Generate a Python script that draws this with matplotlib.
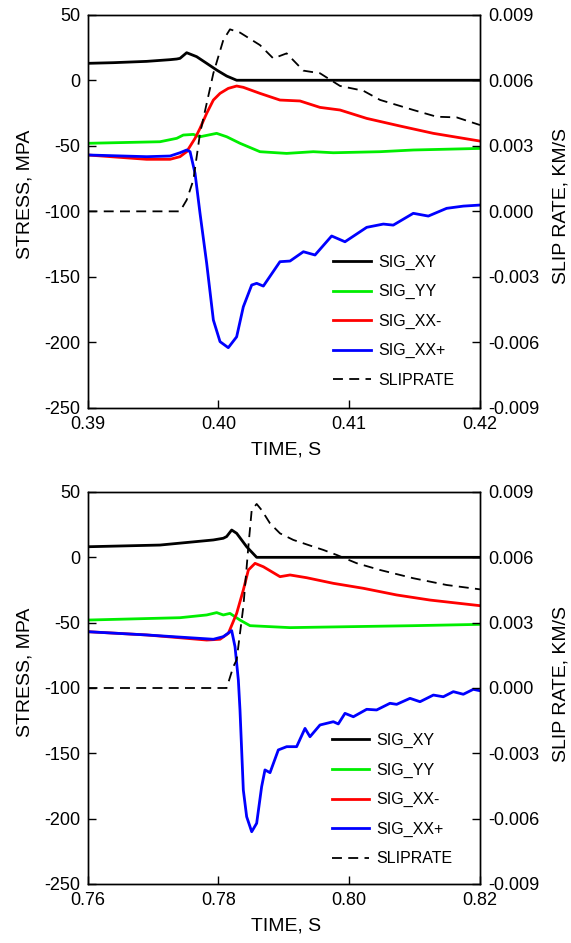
import matplotlib
matplotlib.use("Agg")
import matplotlib.pyplot as plt

plt.rcParams['font.family'] = ['Liberation Sans', 'DejaVu Sans']

# ---------------- data: top panel ----------------
t_xy_top = [0.390, 0.39197, 0.39452, 0.39631, 0.39682, 0.39707, 0.39758, 0.39834, 0.39911, 0.39987, 0.40064, 0.4014, 0.420]
xy_top = [12.9, 13.4, 14.4, 15.7, 16.2, 16.7, 21.0, 18.0, 12.9, 7.8, 3.2, 0.0, 0.0]

t_yy_top = [0.390, 0.39554, 0.39682, 0.39732, 0.39809, 0.3986, 0.39987, 0.40064, 0.40166, 0.40318, 0.40522, 0.40726, 0.40879, 0.41236, 0.4149, 0.420]
yy_top = [-48.1, -46.9, -44.3, -41.8, -41.3, -43.1, -40.5, -43.1, -48.1, -54.5, -55.8, -54.5, -55.3, -54.5, -53.2, -52.0]

t_xxm_top = [0.390, 0.39452, 0.39631, 0.39707, 0.39758, 0.39822, 0.3986, 0.39911, 0.39962, 0.40013, 0.40076, 0.4014, 0.40191, 0.40318, 0.40471, 0.40624, 0.40777, 0.4093, 0.41134, 0.41388, 0.41643, 0.420]
xxm_top = [-57.0, -60.3, -60.3, -58.3, -54.5, -44.3, -36.7, -25.2, -15.1, -10.0, -6.2, -4.4, -5.4, -10.0, -15.1, -15.8, -20.7, -22.7, -29.1, -34.9, -40.5, -46.4]

t_xxp_top = [0.390, 0.39452, 0.39631, 0.39707, 0.39758, 0.39784, 0.39822, 0.3986, 0.39911, 0.39962, 0.40013, 0.40076, 0.4014, 0.40191, 0.40255, 0.40293, 0.40344, 0.40471, 0.40548, 0.4065, 0.40739, 0.40866, 0.40968, 0.41134, 0.41261, 0.41337, 0.4149, 0.41605, 0.41745, 0.41873, 0.420]
xxp_top = [-57.0, -58.3, -57.8, -55.3, -53.2, -54.5, -71.0, -101.5, -139.7, -182.9, -199.4, -204.0, -195.7, -172.8, -156.2, -154.9, -157.0, -138.4, -137.9, -130.8, -133.3, -118.8, -123.2, -112.2, -109.7, -110.5, -101.5, -103.6, -97.7, -96.0, -95.2]

t_slip_top = [0.390, 0.39707, 0.39758, 0.39809, 0.3986, 0.39911, 0.39962, 0.40038, 0.40089, 0.40166, 0.40318, 0.4042, 0.40522, 0.4065, 0.40777, 0.4093, 0.41108, 0.41236, 0.4149, 0.41669, 0.41822, 0.420]
slip_top = [0.0, 0.0, 0.00052, 0.00143, 0.00357, 0.00494, 0.00632, 0.00784, 0.00833, 0.00818, 0.00761, 0.00700, 0.00723, 0.00644, 0.00632, 0.00574, 0.00552, 0.00510, 0.00464, 0.00433, 0.00430, 0.00395]

# ---------------- data: bottom panel ----------------
t_xy_bot = [0.760, 0.77108, 0.77924, 0.78076, 0.78127, 0.78204, 0.7828, 0.78433, 0.78586, 0.820]
xy_bot = [8.1, 9.4, 13.3, 14.6, 15.9, 20.9, 18.4, 8.1, 0.0, 0.0]

t_yy_bot = [0.760, 0.77414, 0.77822, 0.77975, 0.78076, 0.78178, 0.78331, 0.78484, 0.79096, 0.79962, 0.80981, 0.820]
yy_bot = [-48.0, -46.2, -44.1, -42.3, -44.1, -42.9, -48.0, -52.3, -53.8, -53.1, -52.3, -51.3]

t_xxm_bot = [0.760, 0.76904, 0.77822, 0.78026, 0.78153, 0.7828, 0.78382, 0.78459, 0.78561, 0.78688, 0.78943, 0.79096, 0.7935, 0.79758, 0.80217, 0.80726, 0.81236, 0.820]
xxm_bot = [-56.9, -59.4, -63.3, -62.7, -58.2, -42.9, -25.0, -9.7, -4.6, -7.2, -14.8, -13.5, -15.6, -19.9, -23.7, -28.8, -32.7, -37.0]

t_xxp_bot = [0.760, 0.76904, 0.77924, 0.78076, 0.78204, 0.78255, 0.78306, 0.78331, 0.78382, 0.78433, 0.7851, 0.78586, 0.78662, 0.78713, 0.7879, 0.78917, 0.79045, 0.79197, 0.79325, 0.79401, 0.79554, 0.79758, 0.79834, 0.79936, 0.80064, 0.80268, 0.8042, 0.80624, 0.80726, 0.8093, 0.81083, 0.81287, 0.81439, 0.81592, 0.81745, 0.81898, 0.820]
xxp_bot = [-56.9, -59.4, -62.7, -60.7, -56.1, -68.4, -93.9, -116.8, -178.1, -198.5, -210.0, -203.5, -175.5, -162.7, -164.8, -147.4, -144.9, -144.9, -130.9, -137.3, -128.3, -125.8, -127.5, -119.4, -122.0, -116.3, -116.8, -111.7, -112.5, -107.9, -110.5, -105.4, -106.7, -102.8, -104.8, -101.0, -102.1]

t_slip_bot = [0.760, 0.78127, 0.78229, 0.7828, 0.78382, 0.78459, 0.7851, 0.78586, 0.78662, 0.7879, 0.78943, 0.79146, 0.79452, 0.79605, 0.79809, 0.80115, 0.80471, 0.80981, 0.8149, 0.820]
slip_bot = [0.0, 0.0, 0.00098, 0.00129, 0.00373, 0.00649, 0.00817, 0.00845, 0.00817, 0.00756, 0.00710, 0.00680, 0.00649, 0.00634, 0.00611, 0.00573, 0.00542, 0.00504, 0.00473, 0.00453]

stress_ticks = [-250, -200, -150, -100, -50, 0, 50]
slip_ticks = [-0.009, -0.006, -0.003, 0.000, 0.003, 0.006, 0.009]
xticks_top = [0.39, 0.40, 0.41, 0.42]
xticks_bot = [0.76, 0.78, 0.80, 0.82]

labels = ['SIG_XY', 'SIG_YY', 'SIG_XX-', 'SIG_XX+', 'SLIPRATE']

GREEN = '#00ee00'
RED = '#ff0000'
BLUE = '#0000ff'

fig = plt.figure(figsize=(5.71, 9.43), dpi=100)

W, H = 571.0, 943.0
ax_left = 87.5 / W
ax_w = (480.0 - 87.5) / W


def panel(top_px, bot_px, series, slip_t, slip_v, xticks, xfmt, leg_anchor, label_centers):
    ax = fig.add_axes([ax_left, 1 - bot_px / H, ax_w, (bot_px - top_px) / H])
    ax2 = ax.twinx()
    lines = []
    for (t, v), col in zip(series, ['black', GREEN, RED, BLUE]):
        l, = ax.plot(t, v, color=col, lw=2.0, solid_joinstyle='round')
        lines.append(l)
    ls, = ax2.plot(slip_t, slip_v, color='black', lw=1.3, ls=(0, (5.5, 3.5)))
    lines.append(ls)
    ax.set_xlim(xticks[0], xticks[-1])
    ax.set_ylim(-250, 50)
    ax2.set_ylim(-0.009, 0.009)
    ax.set_xticks(xticks)
    ax.set_xticklabels([xfmt % v for v in xticks])
    ax.set_yticks(stress_ticks)
    ax.set_yticklabels(['%d' % v for v in stress_ticks])
    ax2.set_yticks(slip_ticks)
    ax2.set_yticklabels(['%.3f' % v for v in slip_ticks])
    for a in (ax, ax2):
        a.tick_params(direction='in', length=6, width=1.0, labelsize=13)
        for s in a.spines.values():
            s.set_linewidth(1.0)
    ax.tick_params(axis='y', pad=5)
    ax.tick_params(axis='x', pad=6)
    ax2.tick_params(axis='y', pad=6)
    ax.legend(lines, labels, loc='upper left', bbox_to_anchor=leg_anchor,
              frameon=False, fontsize=11.5, handlelength=2.35, handletextpad=0.45,
              labelspacing=0.9, borderpad=0, borderaxespad=0)
    cx, cy_left, cy_right, cy_x = label_centers
    fig.text(25 / W, 1 - cy_left / H, 'STRESS, MPA', rotation=90, ha='center', va='center', fontsize=14)
    fig.text(561 / W, 1 - cy_right / H, 'SLIP RATE, KM/S', rotation=90, ha='center', va='center', fontsize=14)
    fig.text(cx / W, 1 - cy_x / H, 'TIME, S', ha='center', va='center', fontsize=14)
    return ax, ax2


panel(14.7, 408.0,
      [(t_xy_top, xy_top), (t_yy_top, yy_top), (t_xxm_top, xxm_top), (t_xxp_top, xxp_top)],
      t_slip_top, slip_top, xticks_top, '%.2f', (0.626, 0.390), (286.5, 194, 206, 450))

panel(492.0, 884.0,
      [(t_xy_bot, xy_bot), (t_yy_bot, yy_bot), (t_xxm_bot, xxm_bot), (t_xxp_bot, xxp_bot)],
      t_slip_bot, slip_bot, xticks_bot, '%.2f', (0.622, 0.385), (286.5, 672, 684, 926))

fig.savefig('out.png', dpi=100)
